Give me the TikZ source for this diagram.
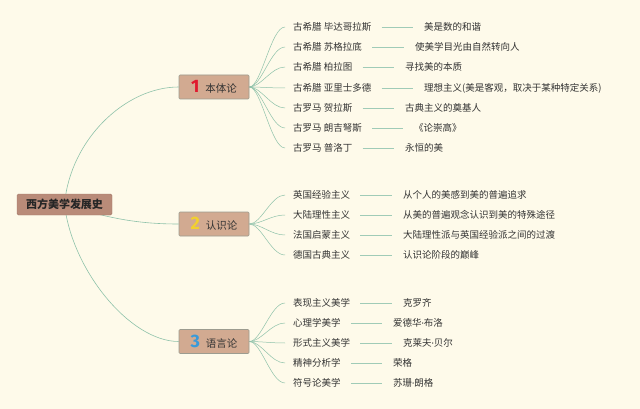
\documentclass[tikz,border=0pt]{standalone}
\usepackage{fontspec}
\setmainfont{Noto Sans CJK SC}
\newfontfamily\numfont{Fira Sans}
\definecolor{bgc}{HTML}{FEFAEA}
\definecolor{mainfill}{HTML}{B98B79}
\definecolor{mainedge}{HTML}{A47A6A}
\definecolor{topfill}{HTML}{D2AA91}
\definecolor{topedge}{HTML}{9C9C90}
\definecolor{conn}{HTML}{8FC2AA}
\definecolor{txt}{HTML}{333333}
\definecolor{numa}{HTML}{E01A2E}
\definecolor{numb}{HTML}{F2D02E}
\definecolor{numc}{HTML}{3A9AD9}
\pgfdeclarelayer{bg}
\pgfdeclarelayer{back}
\pgfsetlayers{bg,back,main}
\tikzset{
  rootbox/.style={draw=mainedge, fill=mainfill, rounded corners=1.5pt, minimum width=95pt, minimum height=21pt, inner sep=0pt, font=\bfseries\fontsize{11}{13}\selectfont, text=black!85},
  topicbox/.style={draw=topedge, line width=0.6pt, fill=topfill, rounded corners=1pt, minimum width=70pt, minimum height=24pt, inner sep=0pt, font=\fontsize{10.5}{12}\selectfont, text=txt},
  leaf/.style={anchor=west, inner sep=0pt, font=\fontsize{9.5}{11}\selectfont, text=txt},
  val/.style={anchor=west, inner sep=0pt, font=\fontsize{9.5}{11}\selectfont, text=txt},
  mainlink/.style={draw=conn, line width=0.6pt},
  sublink/.style={draw=conn, line width=0.5pt, shorten >=8pt},
  vallink/.style={draw=conn!85, line width=0.6pt, shorten <=10pt, shorten >=11pt}
}
\newcommand{\dig}[2]{{\numfont\bfseries\fontsize{18}{18}\selectfont\color{#1}#2}\hspace{6pt}}
\newcommand{\mdot}{{\numfont\char"00B7}}
\begin{document}
\begin{tikzpicture}[x=1pt,y=-1pt]
\begin{pgfonlayer}{bg}
\fill[bgc] (0,0) rectangle (640,409);
\end{pgfonlayer}
\useasboundingbox (0,0) rectangle (640,409);

\node[rootbox] (root) at (64.5,204.5) {西方美学发展史};
\node[topicbox] (t1) at (214,87) {\dig{numa}{1}本体论};
\node[topicbox] (t2) at (214,224) {\dig{numb}{2}认识论};
\node[topicbox] (t3) at (214,341.5) {\dig{numc}{3}语言论};

% group 1
\node[leaf] (a1) at (293,27) {古希腊 毕达哥拉斯};
\node[leaf] (a2) at (293,47) {古希腊 苏格拉底};
\node[leaf] (a3) at (293,67) {古希腊 柏拉图};
\node[leaf] (a4) at (293,88) {古希腊 亚里士多德};
\node[leaf] (a5) at (293,108) {古罗马 贺拉斯};
\node[leaf] (a6) at (293,128) {古罗马 朗吉弩斯};
\node[leaf] (a7) at (293,148) {古罗马 普洛丁};
\node[val] (v1) at (424,27) {美是数的和谐};
\node[val] (v2) at (415,47) {使美学目光由自然转向人};
\node[val] (v3) at (405,67) {寻找美的本质};
\node[val] (v4) at (424,88) {理想主义(美是客观，取决于某种特定关系)};
\node[val] (v5) at (405,108) {古典主义的奠基人};
\node[val] (v6) at (414,128) {《论崇高》};
\node[val] (v7) at (405,148) {永恒的美};

% group 2
\node[leaf] (b1) at (293,195) {英国经验主义};
\node[leaf] (b2) at (293,215) {大陆理性主义};
\node[leaf] (b3) at (293,235) {法国启蒙主义};
\node[leaf] (b4) at (293,255) {德国古典主义};
\node[val] (w1) at (403,195) {从个人的美感到美的普遍追求};
\node[val] (w2) at (403,215) {从美的普遍观念认识到美的特殊途径};
\node[val] (w3) at (403,235) {大陆理性派与英国经验派之间的过渡};
\node[val] (w4) at (403,255) {认识论阶段的巅峰};

% group 3
\node[leaf] (c1) at (293,303) {表现主义美学};
\node[leaf] (c2) at (293,323) {心理学美学};
\node[leaf] (c3) at (293,343) {形式主义美学};
\node[leaf] (c4) at (293,363) {精神分析学};
\node[leaf] (c5) at (293,383) {符号论美学};
\node[val] (u1) at (403,303) {克罗齐};
\node[val] (u2) at (393,323) {爱德华\mdot 布洛};
\node[val] (u3) at (403,343) {克莱夫\mdot 贝尔};
\node[val] (u4) at (393,363) {荣格};
\node[val] (u5) at (393,383) {苏珊\mdot 朗格};

\begin{pgfonlayer}{back}
\draw[mainlink] (root.center) .. controls (70,140) and (125,87) .. (t1.west);
\draw[mainlink] (root.center) .. controls (110,219) and (140,224) .. (t2.west);
\draw[mainlink] (root.center) .. controls (72,270) and (130,341.5) .. (t3.west);
\foreach \n in {a1,a2,a3,a4,a5,a6,a7}
  \draw[sublink] (t1.east) .. controls +(12,0) and +(-22,0) .. (\n.west);
\foreach \n in {b1,b2,b3,b4}
  \draw[sublink] (t2.east) .. controls +(12,0) and +(-22,0) .. (\n.west);
\foreach \n in {c1,c2,c3,c4,c5}
  \draw[sublink] (t3.east) .. controls +(12,0) and +(-22,0) .. (\n.west);
\foreach \l/\v in {a1/v1,a2/v2,a3/v3,a4/v4,a5/v5,a6/v6,a7/v7,b1/w1,b2/w2,b3/w3,b4/w4,c1/u1,c2/u2,c3/u3,c4/u4,c5/u5}
  \draw[vallink] (\l.east) -- (\v.west);
\end{pgfonlayer}
\end{tikzpicture}
\end{document}
